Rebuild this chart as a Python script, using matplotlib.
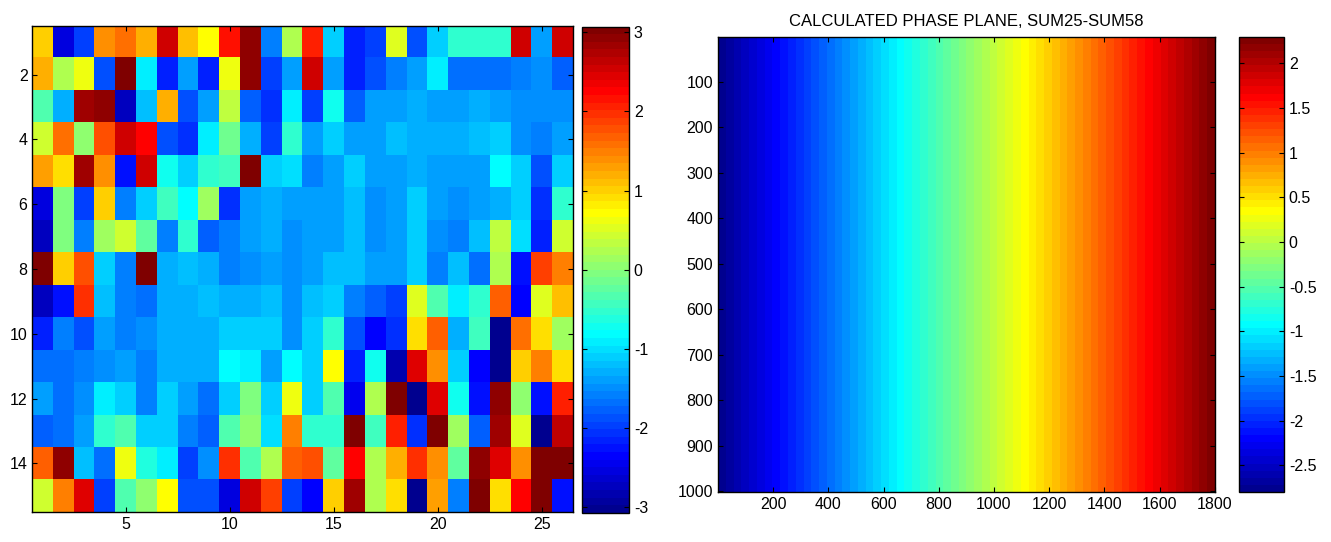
import numpy as np
import matplotlib
matplotlib.use('Agg')
import matplotlib.pyplot as plt
from matplotlib.colors import ListedColormap

plt.rcParams['font.family'] = ['Liberation Sans', 'DejaVu Sans']
plt.rcParams['axes.unicode_minus'] = False

# phase values (15 rows x 26 columns)
row01 = [1.05, -2.5, -1.95, 1.43, 1.59, 1.2, 2.5, 1.1, 0.73, 2.14, 2.94, -1.54, 0.26, 2.06, -1.07, -2.16, -1.93, 0.55, -1.87, -1.07, -0.52, -0.52, -0.55, 2.57, -1.4, 2.57]
row02 = [1.23, 0.26, 0.6, -1.87, 3.0, -0.95, -2.16, -1.4, -2.16, 0.6, 2.94, -1.95, -1.4, 2.57, -1.4, -2.16, -1.87, -1.54, -1.4, -0.95, -1.7, -1.7, -1.7, -1.62, -1.46, -1.78]
row03 = [-0.37, -1.32, 2.85, 2.92, -2.77, -1.23, 1.2, -1.87, -1.4, 0.34, -1.78, -2.08, -0.95, -2.01, -0.68, -1.78, -1.4, -1.36, -1.32, -1.36, -1.36, -1.3, -1.4, -1.46, -1.46, -1.46]
row04 = [0.42, 1.59, 0.03, 1.82, 2.5, 2.3, -1.87, -2.08, -0.95, -0.13, -1.32, -1.95, -0.52, -1.4, -1.07, -1.4, -1.4, -1.23, -1.32, -1.32, -1.3, -1.23, -1.15, -1.44, -1.54, -1.4]
row05 = [1.25, 0.88, 2.85, 1.43, -2.24, 2.57, -0.68, -1.15, -0.52, -0.45, 3.05, -1.07, -1.0, -1.54, -1.4, -1.07, -1.4, -1.4, -1.32, -1.4, -1.4, -1.4, -0.84, -1.07, -1.87, -1.15]
row06 = [-2.5, -0.05, -1.95, 1.05, -1.62, -1.15, -0.45, -0.84, 0.1, -2.08, -1.4, -1.3, -1.36, -1.36, -1.36, -1.23, -1.46, -1.36, -1.15, -1.36, -1.46, -1.36, -1.3, -1.15, -2.08, -0.52]
row07 = [-2.75, -0.05, -1.54, 0.1, 0.42, -0.2, -1.62, -0.52, -1.74, -1.62, -1.4, -1.3, -1.44, -1.36, -1.36, -1.23, -1.46, -1.36, -1.12, -1.5, -1.58, -1.23, 0.34, -1.0, -2.16, 0.42]
row08 = [3.0, 1.05, 1.74, -1.15, -1.54, 3.05, -1.32, -1.23, -1.32, -1.54, -1.46, -1.36, -1.44, -1.36, -1.23, -1.23, -1.36, -1.4, -1.12, -1.58, -1.23, -1.7, 0.26, -2.24, 1.9, 1.51]
row09 = [-2.77, -2.24, 1.98, -1.23, -1.54, -1.7, -1.32, -1.32, -1.23, -1.32, -1.32, -1.23, -1.46, -1.23, -1.15, -1.54, -1.78, -2.01, 0.5, -0.29, -0.92, -0.52, 1.66, -2.32, 0.5, 1.13]
row10 = [-2.16, -1.54, -1.87, -1.4, -1.54, -1.46, -1.32, -1.32, -1.32, -1.15, -1.15, -1.15, -1.46, -1.15, -0.52, -1.87, -2.32, -2.08, 0.88, 1.66, -1.32, -0.45, -3.05, 1.59, 0.95, 0.19]
row11 = [-1.7, -1.7, -1.54, -1.44, -1.4, -1.54, -1.3, -1.3, -1.3, -0.84, -0.95, -1.4, -0.84, -1.15, 0.73, -2.16, -0.76, -2.82, 2.43, 1.35, -1.15, -2.32, -3.05, 1.05, 1.51, 0.95]
row12 = [-1.4, -1.7, -1.46, -0.95, -1.15, -1.62, -1.15, -1.36, -1.7, -1.15, -0.05, -1.15, 0.6, -1.07, -0.29, -2.4, 0.26, 3.0, -3.05, 2.43, -0.76, -2.24, 2.92, 0.03, -2.24, 2.06]
row13 = [-1.78, -1.7, -1.4, -0.52, -0.29, -1.15, -1.15, -1.62, -1.78, -0.29, 0.03, -1.0, 1.51, -0.52, -0.52, 3.05, -0.45, 2.06, -2.08, 3.0, 0.19, -1.78, 2.85, 0.5, -3.05, 2.65]
row14 = [1.7, 2.94, -1.23, -1.7, 0.65, -0.65, -0.95, -2.01, -1.46, 1.98, -0.29, 0.26, 1.66, 1.82, -0.2, 2.22, 0.26, 1.23, 1.98, 1.43, -0.2, 2.94, 2.4, 1.43, 3.07, 3.07]
row15 = [0.42, 1.51, 2.43, -1.95, -0.37, 0.03, 0.73, -1.87, -1.87, -2.58, 2.5, 1.9, -2.01, -2.32, 1.05, 2.85, 0.26, 0.95, -3.05, 1.3, -1.54, 3.0, 0.95, 2.22, 3.0, -2.28]
phase_rows = [row01, row02, row03, row04, row05, row06, row07, row08,
              row09, row10, row11, row12, row13, row14, row15]

left_xticks = [5, 10, 15, 20, 25]
left_yticks = [2, 4, 6, 8, 10, 12, 14]
left_cticks = [-3, -2, -1, 0, 1, 2, 3]

# calculated phase plane: linear ramp along x
plane_cols = 1800
plane_rows = 1000
plane_start = -2.80
plane_end = 2.30
right_xticks = [200, 400, 600, 800, 1000, 1200, 1400, 1600, 1800]
right_yticks = [100, 200, 300, 400, 500, 600, 700, 800, 900, 1000]
right_cticks = [-2.5, -2, -1.5, -1, -0.5, 0, 0.5, 1, 1.5, 2]
right_title = 'CALCULATED PHASE PLANE, SUM25-SUM58'


# MATLAB style jet(64)
def matlab_jet(m=64):
    n = int(np.ceil(m / 4))
    u = np.concatenate([np.arange(1, n + 1) / n, np.ones(n - 1),
                        np.arange(n, 0, -1) / n])
    g = int(np.ceil(n / 2)) - (1 if m % 4 == 1 else 0) + np.arange(1, len(u) + 1)
    r = g + n
    b = g - n
    rgb = np.zeros((m, 3))
    for chan, idx in ((0, r), (1, g), (2, b)):
        ok = (idx >= 1) & (idx <= m)
        rgb[idx[ok] - 1, chan] = u[ok]
    return ListedColormap(rgb)


cmap = matlab_jet(64)
fs = 11.5


def style(ax):
    ax.tick_params(direction='in', length=3.5, width=0.8, labelsize=fs,
                   top=True, right=True, colors='black')
    for s in ax.spines.values():
        s.set_linewidth(1.0)


fig = plt.figure(figsize=(13.31, 5.42), dpi=100)

# left map
data = np.array(phase_rows)
ax1 = fig.add_axes([0.02434, 0.05535, 0.40616, 0.89668])
im1 = ax1.imshow(data, cmap=cmap, vmin=-3.07, vmax=3.07, aspect='auto',
                 interpolation='nearest',
                 extent=(0.5, data.shape[1] + 0.5, data.shape[0] + 0.5, 0.5))
ax1.set_xticks(left_xticks)
ax1.set_yticks(left_yticks)
style(ax1)

cax1 = fig.add_axes([0.43727, 0.05406, 0.03531, 0.89668])
cb1 = fig.colorbar(im1, cax=cax1, ticks=left_cticks)
cb1.ax.tick_params(direction='in', length=3.5, width=0.8, labelsize=fs,
                   left=True, right=True)
cb1.outline.set_linewidth(1.0)

# right phase plane
xs = np.arange(1, plane_cols + 1)
ramp = plane_start + (plane_end - plane_start) * (xs - 1) / (plane_cols - 1)
plane = np.tile(ramp, (plane_rows, 1))
ax2 = fig.add_axes([0.53944, 0.09280, 0.37340, 0.83948])
im2 = ax2.imshow(plane, cmap=cmap, vmin=plane_start, vmax=plane_end,
                 aspect='auto', interpolation='nearest',
                 extent=(0.5, plane_cols + 0.5, plane_rows + 0.5, 0.5))
ax2.set_xticks(right_xticks)
ax2.set_yticks(right_yticks)
ax2.set_title(right_title, fontsize=12, pad=8)
style(ax2)

cax2 = fig.add_axes([0.93110, 0.09225, 0.03358, 0.84004])
cb2 = fig.colorbar(im2, cax=cax2, ticks=right_cticks)
cb2.ax.set_yticklabels([('%g' % t) for t in right_cticks])
cb2.ax.tick_params(direction='in', length=3.5, width=0.8, labelsize=fs,
                   left=True, right=True)
cb2.outline.set_linewidth(1.0)

fig.savefig('out.png', dpi=100)
